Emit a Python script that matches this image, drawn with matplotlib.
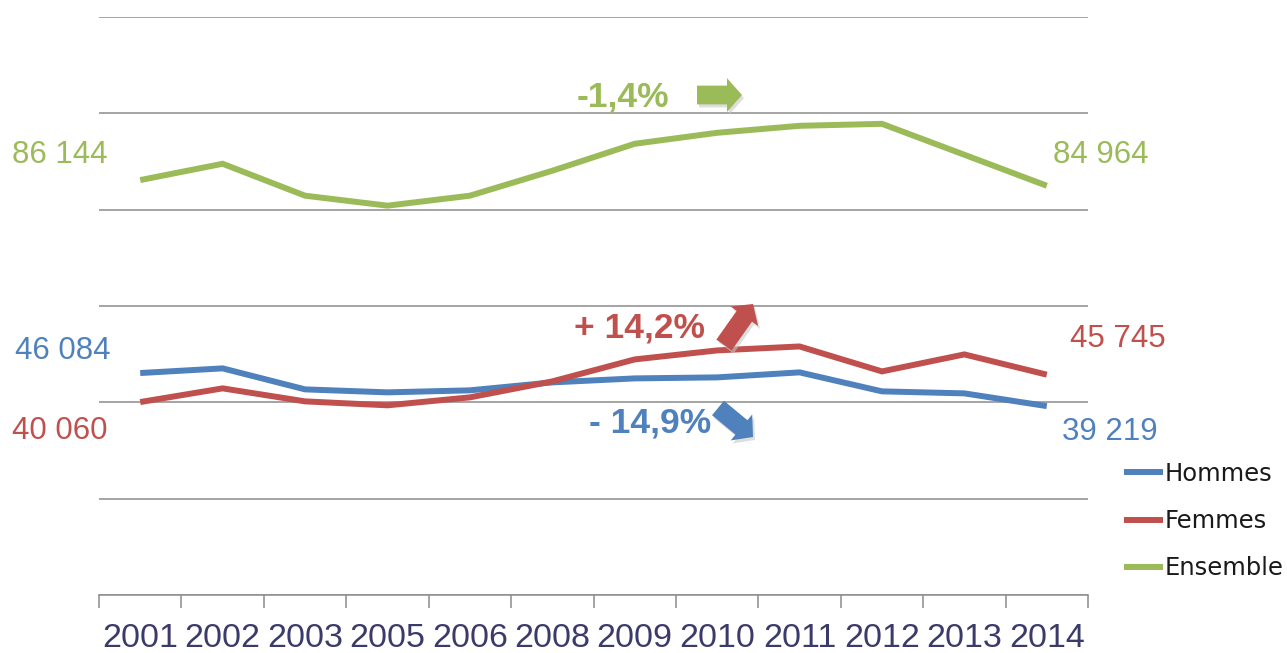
import matplotlib
matplotlib.use("Agg")
import matplotlib.pyplot as plt
from matplotlib.patches import FancyArrowPatch

years = ["2001", "2002", "2003", "2005", "2006", "2008", "2009", "2010", "2011", "2012", "2013", "2014"]
hommes = [46084, 47050, 42690, 42070, 42490, 44140, 44970, 45180, 46220, 42280, 41860, 39219]
femmes = [40060, 42900, 40200, 39380, 41030, 44350, 48910, 50780, 51600, 46420, 49950, 45745]
ensemble = [86144, 89530, 82900, 80830, 82900, 88080, 93680, 95960, 97410, 97820, 91400, 84964]
series_names = ["Hommes", "Femmes", "Ensemble"]
evolutions = ["- 14,9%", "+ 14,2%", "-1,4%"]

BLUE = "#4F81BD"
RED = "#C0504D"
GREEN = "#9BBB59"
colors = [BLUE, RED, GREEN]

W, H = 1287, 653
fig = plt.figure(figsize=(W / 100, H / 100), dpi=100)
def fx(px): return px / W
def fy(py): return 1 - py / H

ax = fig.add_axes([fx(99), fy(595), fx(1088) - fx(99), fy(17) - fy(595)])
x = list(range(len(years)))
for vals, name, c in zip([hommes, femmes, ensemble], series_names, colors):
    ax.plot(x, vals, color=c, lw=4.3, label=name, solid_capstyle="butt", solid_joinstyle="miter", zorder=3)

ax.set_xlim(-0.5, len(years) - 0.5)
ax.set_ylim(0, 120000)
ax.set_yticks(range(0, 120001, 20000))
ax.yaxis.grid(True, color="#8c8c8c", lw=1.1)
ax.tick_params(axis="y", left=False, labelleft=False)
for s in ["left", "right", "top"]:
    ax.spines[s].set_visible(False)
ax.spines["bottom"].set_color("#8c8c8c")
ax.spines["bottom"].set_linewidth(1.1)

NAR = ["Liberation Sans", "DejaVu Sans"]
ax.set_xticks(x)
ax.set_xticklabels(years, fontsize=24.5, color="#3b3b6b", family=NAR)
ax.set_xticks([i - 0.5 for i in range(len(years) + 1)], minor=True)
ax.tick_params(axis="x", which="major", length=0, pad=20)
ax.tick_params(axis="x", which="minor", length=9, color="#8c8c8c", width=1.1)

# value labels
lab_kw = dict(fontsize=22.5, family=NAR, va="center", transform=fig.transFigure)
fig.text(fx(12), fy(155), "86 144", color=GREEN, ha="left", **lab_kw)
fig.text(fx(1053), fy(155), "84 964", color=GREEN, ha="left", **lab_kw)
fig.text(fx(15), fy(351), "46 084", color=BLUE, ha="left", **lab_kw)
fig.text(fx(12), fy(431), "40 060", color=RED, ha="left", **lab_kw)
fig.text(fx(1070), fy(339), "45 745", color=RED, ha="left", **lab_kw)
fig.text(fx(1062), fy(432), "39 219", color=BLUE, ha="left", **lab_kw)

# evolution annotations
ev_kw = dict(fontsize=25.5, family=NAR, fontweight="bold", va="center", ha="left")
fig.text(fx(577), fy(97), evolutions[2], color=GREEN, **ev_kw)
fig.text(fx(574), fy(328), evolutions[1], color=RED, **ev_kw)
fig.text(fx(589), fy(423), evolutions[0], color=BLUE, **ev_kw)

def block_arrow(p0, p1, color):
    style = "simple,head_length=0.6,head_width=1.35,tail_width=0.75"
    shadow = FancyArrowPatch((fx(p0[0] + 2), fy(p0[1] + 3)), (fx(p1[0] + 2), fy(p1[1] + 3)),
                             arrowstyle=style, mutation_scale=18, transform=fig.transFigure,
                             color="#c8c8c8", alpha=0.6, lw=0, shrinkA=0, shrinkB=0)
    arr = FancyArrowPatch((fx(p0[0]), fy(p0[1])), (fx(p1[0]), fy(p1[1])),
                          arrowstyle=style, mutation_scale=18, transform=fig.transFigure,
                          color=color, lw=0, shrinkA=0, shrinkB=0)
    fig.add_artist(shadow)
    fig.add_artist(arr)

block_arrow((697, 95), (742, 95), GREEN)
block_arrow((724, 345), (753, 304), RED)
block_arrow((718, 408), (753, 437), BLUE)

leg = ax.legend(loc="upper left", bbox_to_anchor=(fx(1124), fy(462)), bbox_transform=fig.transFigure,
                frameon=False, fontsize=17.5, handlelength=1.6, handletextpad=0.08,
                labelspacing=0.95, borderaxespad=0, borderpad=0)
for t in leg.get_texts():
    t.set_color("#1a1a1a")

fig.savefig("out.png", dpi=100)
